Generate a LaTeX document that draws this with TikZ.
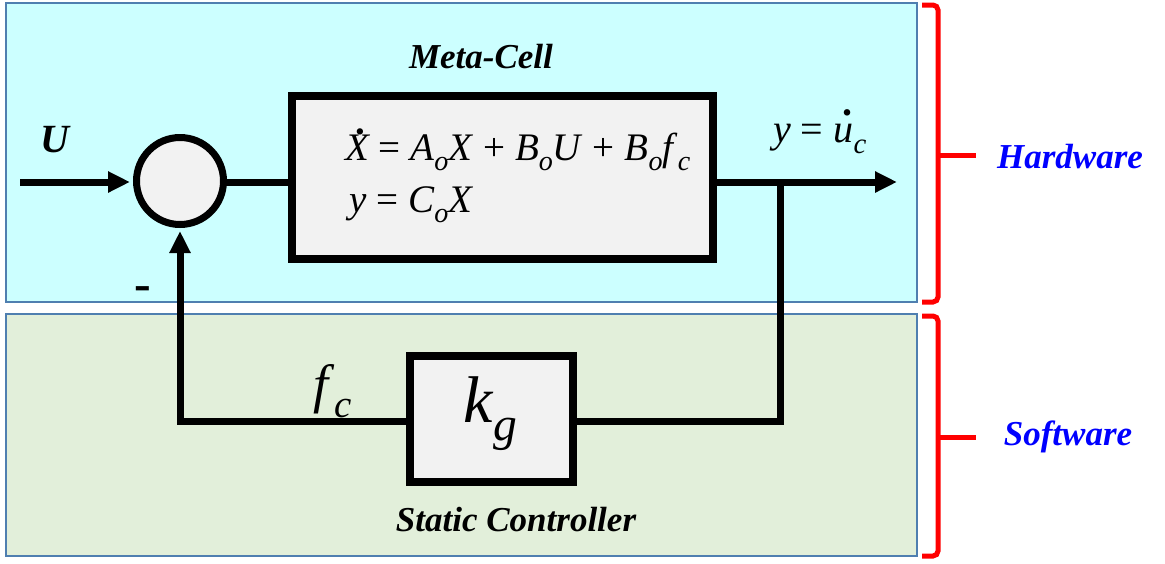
\documentclass[tikz,border=0pt]{standalone}
\usepackage{fontspec}
\newfontfamily\fa{Liberation Serif}
\usetikzlibrary{arrows.meta}
\definecolor{hwfill}{HTML}{CCFFFF}
\definecolor{swfill}{HTML}{E2EFDA}
\definecolor{panelborder}{HTML}{4F7FB0}
\definecolor{boxfill}{HTML}{F2F2F2}
\definecolor{labelblue}{HTML}{0000FF}
\newcommand\sbs[1]{\raisebox{-0.28em}{\scalebox{0.72}{#1}}}
\newcommand\dotacc[1]{\ooalign{#1\cr\hidewidth\kern0.18em\raisebox{0.66em}{\textbf{.}}\hidewidth\cr}}
\begin{document}
\begin{tikzpicture}[x=1pt,y=-1pt,
  panel/.style={draw=panelborder, line width=2pt, inner sep=0pt},
  blockbox/.style={draw=black, line width=8pt, fill=boxfill, inner sep=0pt},
  sumnode/.style={circle, draw=black, line width=7pt, fill=boxfill, inner sep=0pt},
  sig/.style={line width=7pt},
  arr/.style={sig, -{Triangle[length=22pt,width=20pt]}},
  brace/.style={draw=red, line width=5pt, rounded corners=5pt},
  bilabel/.style={font=\fontsize{35}{40}\selectfont\fa\bfseries\itshape, inner sep=0pt},
  eqlabel/.style={inner sep=0pt, anchor=base west},
  sidelabel/.style={bilabel, text=labelblue}
]
\useasboundingbox (0,0) rectangle (1165,563);
% panels
\node[panel, fill=hwfill, minimum width=911pt, minimum height=299pt] (hw) at (461.5,152.5) {};
\node[panel, fill=swfill, minimum width=911pt, minimum height=242pt] (sw) at (461.5,435) {};
% blocks
\node[blockbox, minimum width=421pt, minimum height=163pt] (plant) at (502.5,177.5) {};
\node[blockbox, minimum width=163pt, minimum height=126pt] (kg) at (491.5,419) {};
\node[sumnode, minimum size=87pt] (sum) at (180,181) {};
% texts
\node[bilabel] (metacell) at (481,57) {Meta-Cell};
\node[bilabel, font=\fontsize{40}{44}\selectfont\fa\bfseries\itshape] (ulabel) at (55,140) {U};
\node[eqlabel, font=\fontsize{39}{44}\selectfont\fa] (eq1) at (345,160)
  {\dotacc{\itshape X} = \textit{A}\sbs{\itshape o}\textit{X} + \textit{B}\sbs{\itshape o}\textit{U} + \textit{B}\sbs{\itshape o}\textit{f}\sbs{\itshape c}};
\node[eqlabel, font=\fontsize{39}{44}\selectfont\fa] (eq2) at (349,212)
  {\textit{y} = \textit{C}\sbs{\itshape o}\textit{X}};
\node[eqlabel, font=\fontsize{40}{44}\selectfont\fa] (ylabel) at (773,142)
  {\textit{y} = \dotacc{\itshape u}\sbs{\itshape c}};
\node[eqlabel, font=\fontsize{54}{60}\selectfont\fa] (fclabel) at (313,402)
  {\textit{f}\sbs{\itshape c}};
\node[eqlabel, font=\fontsize{66}{72}\selectfont\fa] (kglabel) at (463,422)
  {\textit{k}\sbs{\itshape g}};
\node[bilabel] (sclabel) at (516,520) {Static Controller};
\node[bilabel, font=\fontsize{50}{56}\selectfont\fa\bfseries] (minus) at (143,294) {-};
\node[sidelabel] (hwlabel) at (1070,157) {Hardware};
\node[sidelabel] (swlabel) at (1068,437) {Software};
% connectors
\coordinate (in) at (20,182);
\coordinate (out) at (897,182);
\coordinate (br) at (780,182);
\coordinate (brd) at (780,421);
\coordinate (fbc) at (sum.south |- brd);
\draw[arr, shorten >=3pt] (in) -- (in -| sum.west);
\draw[sig] (sum.east |- in) -- (in -| plant.west);
\draw[arr] (out -| plant.east) -- (out);
\draw[sig] (br) -- (brd) -- (brd -| kg.east);
\draw[arr, shorten >=3pt] (brd -| kg.west) -- (fbc) -- (sum.south);
% braces
\coordinate (hbt) at (922,5);
\coordinate (hbb) at (922,302);
\coordinate (hbm) at (938,155);
\coordinate (hbtip) at (976,155);
\draw[brace] (hbt) -- (hbt -| hbm) -- (hbb -| hbm) -- (hbb);
\draw[brace] (hbm) -- (hbtip);
\coordinate (sbt) at (922,316);
\coordinate (sbb) at (922,556);
\coordinate (sbm) at (938,437);
\coordinate (sbtip) at (976,437);
\draw[brace] (sbt) -- (sbt -| sbm) -- (sbb -| sbm) -- (sbb);
\draw[brace] (sbm) -- (sbtip);
\end{tikzpicture}
\end{document}
